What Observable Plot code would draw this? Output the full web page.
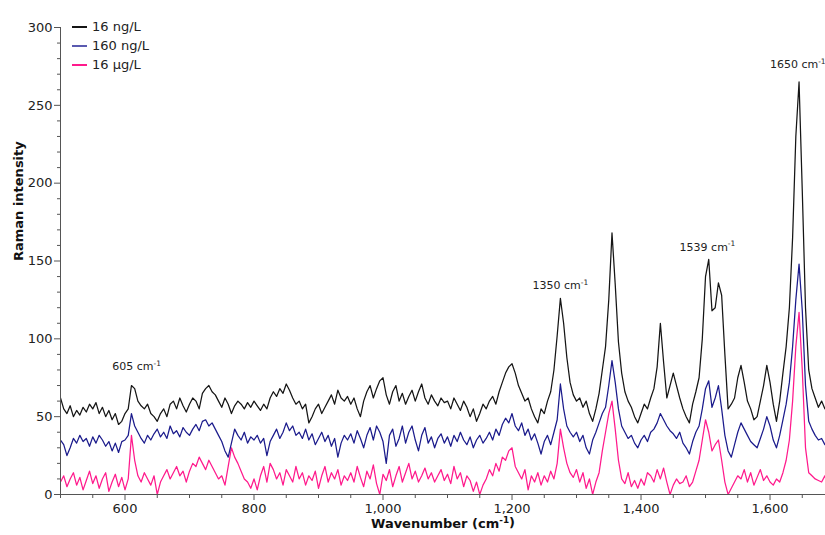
<!DOCTYPE html>
<html><head><meta charset="utf-8">
<script src="https://cdn.jsdelivr.net/npm/d3@7"></script>
<script src="https://cdn.jsdelivr.net/npm/@observablehq/plot@0.6"></script>
<style>
body{margin:0;background:#fff;font-family:"DejaVu Sans",sans-serif;}
#chart{position:relative;width:825px;height:535px;}
#legend{position:absolute;left:72px;top:17px;font-size:13px;color:#222;font-family:"DejaVu Sans",sans-serif;}
.item{display:flex;align-items:center;height:19px;white-space:nowrap;}
.swatch{width:15px;margin-right:5px;}
</style></head><body>
<div id="chart"><div id="legend"></div></div>
<script>
const seriesNames = ["16 ng/L", "160 ng/L", "16 µg/L"];
const seriesColors = ["#151515", "#1b1b8c", "#ff1a8c"];
const wnStart = 500, wnStep = 5;

const black = [
  62,55,52,57,50,54,51,56,53,58,
  55,59,52,56,50,54,48,52,45,47,
  52,55,70,68,60,57,55,58,52,50,
  47,52,55,50,58,60,55,62,57,53,
  58,62,60,55,65,68,70,66,64,60,
  56,62,58,52,57,60,58,55,59,56,
  60,57,54,58,55,62,66,63,68,65,
  71,67,62,58,60,55,58,46,50,55,
  58,52,56,60,64,58,67,62,60,63,
  58,62,55,50,60,66,70,62,68,73,
  75,64,58,66,70,60,65,58,63,67,
  60,66,71,62,58,64,60,57,62,59,
  60,55,62,58,54,60,56,50,55,47,
  52,58,55,60,63,58,66,72,78,82,
  84,78,70,65,60,62,55,50,46,55,
  52,60,66,80,102,126,110,88,72,64,
  60,62,56,60,52,47,55,65,80,95,
  125,168,135,98,78,66,60,56,50,46,
  52,58,55,62,68,82,110,85,62,70,
  78,70,62,55,50,46,58,66,75,100,
  140,151,118,120,136,128,90,55,58,62,
  75,83,72,60,55,48,50,60,70,83,
  72,58,47,60,78,95,120,165,230,265,
  195,120,80,68,62,56,60,55,57
];
const blue = [
  35,32,25,30,36,33,38,34,36,31,
  37,33,38,35,31,34,28,33,27,34,
  35,38,52,44,40,36,33,38,35,39,
  42,37,40,36,44,39,41,37,43,40,
  38,42,45,41,47,48,44,46,42,38,
  34,28,24,33,42,38,35,40,33,37,
  35,38,33,36,25,34,38,42,36,40,
  46,41,44,38,40,36,42,35,39,32,
  36,40,34,38,31,36,24,33,38,35,
  39,33,41,36,30,38,43,35,44,40,
  34,20,38,42,31,36,44,33,40,44,
  35,28,38,43,33,37,30,36,39,33,
  37,31,38,34,40,35,32,37,30,35,
  38,33,36,40,35,42,38,45,49,46,
  52,44,41,46,38,42,35,39,33,26,
  34,38,32,40,48,71,55,44,40,37,
  40,34,38,30,26,35,40,46,52,56,
  70,86,72,55,44,40,36,38,33,30,
  35,38,34,40,42,46,52,48,44,41,
  39,36,40,33,30,26,34,40,44,55,
  68,73,56,62,70,55,38,28,24,32,
  40,46,42,38,34,32,30,36,42,50,
  44,35,30,38,48,58,72,95,125,148,
  118,70,47,42,38,35,36,32,33
];
const pink = [
  8,12,5,10,14,6,11,3,9,15,
  7,12,4,10,14,2,8,13,5,11,
  3,10,38,22,12,8,14,10,6,12,
  0,8,12,16,10,14,18,12,15,8,
  15,20,18,24,20,16,22,18,14,10,
  12,6,18,30,24,20,15,10,8,4,
  10,3,12,18,8,20,16,10,14,6,
  16,12,8,18,10,14,6,12,9,15,
  4,12,18,8,14,10,16,6,12,9,
  14,8,18,11,5,15,10,19,7,0,
  13,9,16,5,12,18,8,14,20,10,
  15,8,12,17,10,14,8,12,16,9,
  13,7,18,10,14,5,12,9,2,8,
  0,6,10,16,12,20,15,24,22,28,
  30,18,14,10,16,3,12,8,14,6,
  12,8,15,10,20,42,30,20,14,11,
  16,8,14,4,10,0,8,14,28,40,
  52,60,42,22,10,7,14,5,9,4,
  10,6,14,12,8,16,10,17,8,0,
  6,10,7,8,12,5,8,15,22,35,
  48,40,28,32,35,22,8,0,4,8,
  12,10,16,8,14,6,11,16,9,12,
  8,6,10,8,14,22,35,60,95,117,
  80,30,14,12,10,9,8,12,7
];

const xMajorTicks = [600, 800, 1000, 1200, 1400, 1600];
const xMinorTicks = [500,550,650,700,750,850,900,950,1050,1100,1150,1250,1300,1350,1450,1500,1550,1650];
const yMajorTicks = [0, 50, 100, 150, 200, 250, 300];
const yMinorTicks = [10,20,30,40,60,70,80,90,110,120,130,140,160,170,180,190,210,220,230,240,260,270,280,290];

const annLabels = ["605 cm⁻¹", "1350 cm⁻¹", "1539 cm⁻¹", "1650 cm⁻¹"];
const annX = [618, 1275, 1503, 1643];
const annY = [82, 134, 159, 276];

const allSeries = [black, blue, pink];
const rows = allSeries.flatMap((vals, s) => vals.map((v, i) => ({wn: wnStart + i * wnStep, v, name: seriesNames[s]})));
const anns = annLabels.map((t, i) => ({t, x: annX[i], y: annY[i]}));

const marks = [];
[2, 1, 0].forEach(s => {
  marks.push(Plot.line(rows.filter(d => d.name === seriesNames[s]), {x: "wn", y: "v", stroke: seriesColors[s], strokeWidth: 1.25, clip: true}));
});

const plot = Plot.plot({
  width: 825, height: 535,
  marginLeft: 60, marginRight: 0, marginTop: 27, marginBottom: 41,
  style: {fontFamily: "DejaVu Sans, sans-serif", fontSize: "13px", color: "#333", background: "#fff"},
  x: {domain: [500, 1686]},
  y: {domain: [0, 300]},
  marks: [
    ...marks,
    Plot.frame({anchor: "left", stroke: "#555"}),
    Plot.frame({anchor: "bottom", stroke: "#555"}),
    Plot.ruleX(xMinorTicks, {x: d => d, y1: 0, y2: 0, insetBottom: -4, stroke: "#555"}),
    Plot.ruleY(yMinorTicks, {y: d => d, x1: 500, x2: 500, insetLeft: -3, stroke: "#555"}),
    Plot.axisX({ticks: xMajorTicks, tickSize: 6, tickPadding: 3, tickFormat: d3.format(","), stroke: "#555", fill: "#222", label: null}),
    Plot.axisY({ticks: yMajorTicks, tickSize: 6, tickPadding: 2, stroke: "#555", fill: "#222", label: null}),
    Plot.text(anns, {x: "x", y: "y", text: "t", fontSize: 11, fill: "#222"}),
    Plot.text(["Wavenumber (cm⁻¹)"], {frameAnchor: "bottom", dy: 33, fontWeight: "bold", fill: "#111"}),
    Plot.text(["Raman intensity"], {frameAnchor: "left", dx: -42, rotate: -90, fontWeight: "bold", fill: "#111"})
  ]
});

d3.select(plot).selectAll("text").each(function() {
  const t = this.textContent;
  if (t.includes("⁻¹")) {
    const parts = t.split("⁻¹");
    const el = d3.select(this);
    el.text(parts[0]);
    el.append("tspan").attr("dy", "-0.55em").attr("font-size", "0.68em").text("-1");
    if (parts[1]) el.append("tspan").attr("dy", "0.37em").text(parts[1]);
  }
});

document.getElementById("chart").prepend(plot);

const legend = document.getElementById("legend");
seriesNames.forEach((n, i) => {
  const item = document.createElement("div");
  item.className = "item";
  const sw = document.createElement("span");
  sw.className = "swatch";
  sw.style.borderTop = "2px solid " + seriesColors[i];
  if (i === 1) sw.style.borderTopColor = "#5a5ab0";
  const lab = document.createElement("span");
  lab.textContent = n;
  item.appendChild(sw); item.appendChild(lab);
  legend.appendChild(item);
});
</script>
</body></html>
